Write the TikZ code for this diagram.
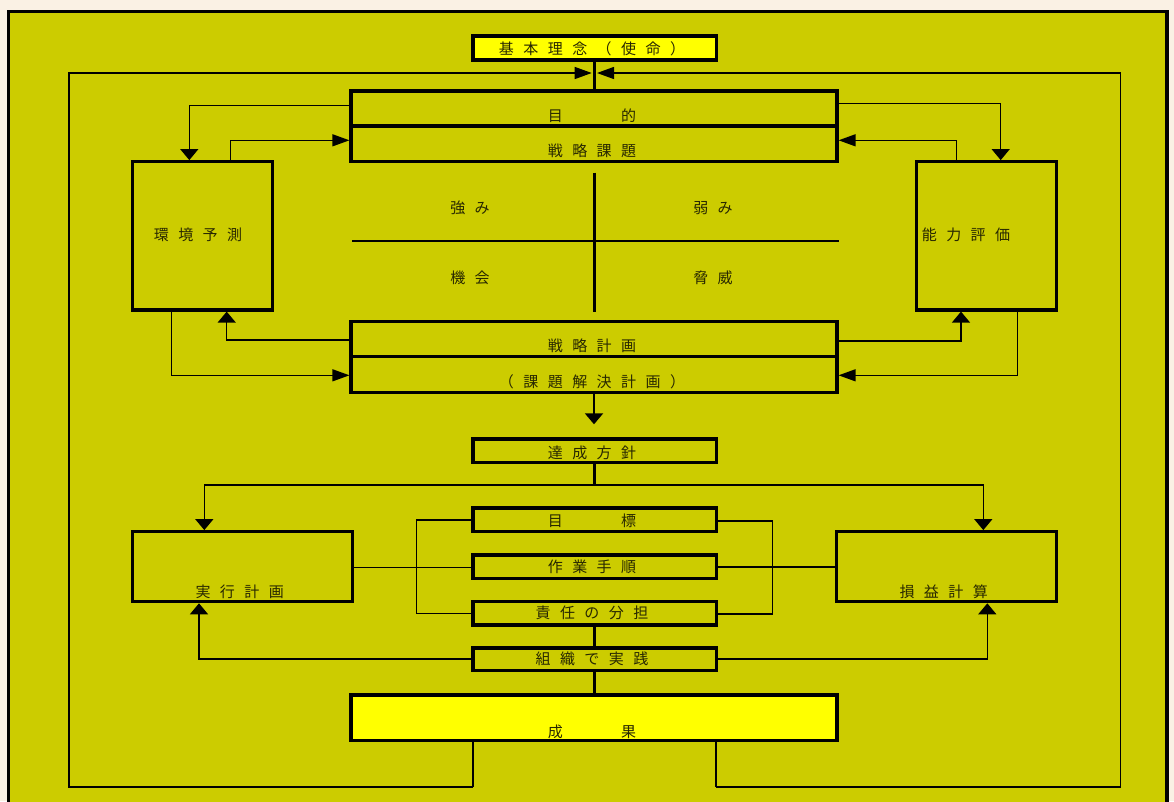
\documentclass[tikz,border=0pt]{standalone}
\usepackage{fontspec}
\newfontfamily\jpfont[LetterSpace=63]{Noto Sans CJK JP}
\usetikzlibrary{arrows.meta}
\definecolor{frameolive}{RGB}{204,204,0}
\definecolor{boxyellow}{RGB}{255,255,0}
\definecolor{paper}{RGB}{250,241,228}
\definecolor{inkc}{RGB}{40,40,0}
\tikzset{
  box/.style={draw=black, line width=3.2pt, inner sep=0pt, minimum width=#1},
  box/.default=243.7pt,
  ybox/.style={box=#1, fill=boxyellow},
  ybox/.default=243.7pt,
  lbl/.style={font=\jpfont\fontsize{15}{17}\selectfont, text=inkc, inner sep=0pt},
  conn/.style={draw=black, line width=1.3pt},
  bar/.style={draw=black, line width=3pt},
  harrow/.style={-{Triangle[length=17pt,width=12pt]}},
  varrow/.style={-{Triangle[length=11pt,width=18pt]}},
}
\begin{document}
\begin{tikzpicture}[x=1pt,y=-1pt]
\useasboundingbox (0,0) rectangle (1174,801);
\clip (0,0) rectangle (1174,801);
\fill[paper] (0,0) rectangle (1174,801);
\draw[line width=3.5pt, fill=frameolive] (8.5,11.7) rectangle (1167,830);

% boxes
\node[ybox, minimum height=24pt] (kihon) at (594.85,48) {};
\node[box=486pt, minimum height=35pt] (mokuteki) at (594,108.5) {};
\node[box=486pt, minimum height=35.7pt] (kadai) at (594,143.85) {};
\node[box=140pt, minimum height=148.3pt] (kankyo) at (202.7,235.85) {};
\node[box=140pt, minimum height=148.3pt] (noryoku) at (986.7,235.85) {};
\node[box=486pt, minimum height=35pt] (keikaku) at (594,339.2) {};
\node[box=486pt, minimum height=36pt] (kaiketsu) at (594,374.7) {};
\node[box, minimum height=23.7pt] (tassei) at (594.85,450.85) {};
\node[box, minimum height=23.7pt] (mokuhyo) at (594.85,519.85) {};
\node[box, minimum height=23.7pt] (sagyo) at (594.85,566.85) {};
\node[box, minimum height=23.3pt] (sekinin) at (594.85,613.35) {};
\node[box, minimum height=22.7pt] (soshiki) at (594.85,659.35) {};
\node[box=219.6pt, minimum height=70pt] (jikko) at (242.5,566.7) {};
\node[box=220pt, minimum height=70pt] (soneki) at (946.7,566.7) {};
\node[ybox=486pt, minimum height=45.7pt] (seika) at (594,717.85) {};

% texts
\node[lbl] (tkihon) at (592,49) {基本理念（使命）};
\node[lbl] (tmokuteki) at (592,116) {目　　的};
\node[lbl] (tkadai) at (592,151) {戦略課題};
\node[lbl] (tstr) at (470,208) {強み};
\node[lbl] (twea) at (713,208) {弱み};
\node[lbl] (topp) at (470,278) {機会};
\node[lbl] (tthr) at (713,278) {脅威};
\node[lbl] (tkankyo) at (198,235) {環境予測};
\node[lbl] (tnoryoku) at (966,235) {能力評価};
\node[lbl] (tkeikaku) at (592,346) {戦略計画};
\node[lbl] (tkaiketsu) at (592,382) {（課題解決計画）};
\node[lbl] (ttassei) at (592,453) {達成方針};
\node[lbl] (tmokuhyo) at (592,521) {目　　標};
\node[lbl] (tsagyo) at (592,567) {作業手順};
\node[lbl] (tsekinin) at (592,613) {責任の分担};
\node[lbl] (tsoshiki) at (592,659) {組織で実践};
\node[lbl] (tjikko) at (239.7,591.7) {実行計画};
\node[lbl] (tsoneki) at (943.7,591.7) {損益計算};
\node[lbl] (tseika) at (592,731.7) {成　　果};

% SWOT cross
\coordinate (swn) at (594.3,172.7);
\coordinate (sws) at (594.3,311.7);
\coordinate (sww) at (352,240.7);
\coordinate (swe) at (839,240.7);
\draw[line width=2.6pt] (swn) -- (sws);
\draw[line width=2pt] (sww) -- (swe);

% top connection
\draw[bar] (kihon.south -| 594.3,0) -- (mokuteki.north -| 594.3,0);

% environment / capability loops
\draw[conn, varrow] (mokuteki.west |- 0,105.7) -| (kankyo.north -| 189.3,0);
\draw[conn, harrow] (kankyo.north -| 230.7,0) |- (kadai.west |- 0,140.3);
\draw[conn, varrow] (mokuteki.east |- 0,103.7) -| (noryoku.north -| 1000.7,0);
\draw[conn, harrow] (noryoku.north -| 956.7,0) |- (kadai.east |- 0,140.3);
\draw[conn, varrow] (keikaku.west |- 0,340) -| (kankyo.south -| 226.7,0);
\draw[conn, harrow] (kankyo.south -| 171.7,0) |- (kaiketsu.west |- 0,375.3);
\draw[conn, varrow] (keikaku.east |- 0,341) -| (noryoku.south -| 961,0);
\draw[conn, harrow] (noryoku.south -| 1017.3,0) |- (kaiketsu.east |- 0,375.3);

% down to policy
\coordinate (downtip) at (594,424.3);
\draw[line width=2pt, varrow] (kaiketsu.south -| 594,0) -- (downtip);

% policy to plans
\coordinate (split) at (594,485);
\draw[bar] (tassei.south -| 594,0) -- (split);
\draw[conn, varrow] (split) -| (jikko.north -| 204.3,0);
\draw[conn, varrow] (split) -| (soneki.north -| 983.3,0);

% brackets and links
\draw[conn] (mokuhyo.west |- 0,520) -- (416.7,520) -- (416.7,613.3) -- (sekinin.west |- 0,613.3);
\draw[conn] (mokuhyo.east |- 0,521) -- (772.3,521) -- (772.3,614) -- (sekinin.east |- 0,614);
\draw[conn] (jikko.east |- 0,567.5) -- (sagyo.west |- 0,567.5);
\draw[conn] (sagyo.east |- 0,567) -- (soneki.west |- 0,567);
\draw[conn, varrow] (soshiki.west |- 0,659) -| (jikko.south -| 199,0);
\draw[conn, varrow] (soshiki.east |- 0,659) -| (soneki.south -| 987.3,0);

\draw[bar] (sekinin.south -| 594,0) -- (soshiki.north -| 594,0);
\draw[bar] (soshiki.south -| 594,0) -- (seika.north -| 594,0);

% feedback loop from results
\coordinate (loopbl) at (69,787);
\coordinate (loopbr) at (1120.5,787);
\coordinate (lefttip) at (591.7,73);
\coordinate (righttip) at (597,73);
\draw[line width=2.6pt] (seika.south -| 473,0) -- (473,787);
\draw[line width=2.6pt] (seika.south -| 716,0) -- (716,787);
\draw[conn, harrow] (473,787) -- (loopbl) |- (lefttip);
\draw[conn, harrow] (716,787) -- (loopbr) |- (righttip);
\end{tikzpicture}
\end{document}
